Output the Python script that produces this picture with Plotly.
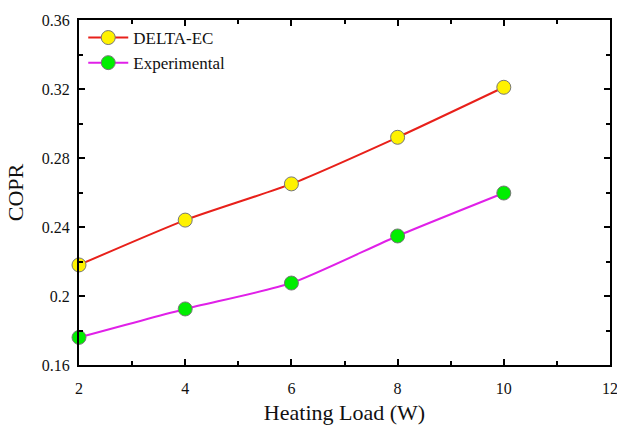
import plotly.graph_objects as go

heating_load = [2, 4, 6, 8, 10]
delta_ec = [0.218, 0.244, 0.265, 0.292, 0.321]
experimental = [0.176, 0.1925, 0.2075, 0.2348, 0.2597]

fig = go.Figure()
fig.add_trace(go.Scatter(
    x=heating_load, y=delta_ec, name="DELTA-EC", mode="lines+markers",
    line=dict(color="#E8201A", width=2, shape="spline", smoothing=0.6),
    marker=dict(size=14, color="#FFF200", line=dict(color="#777777", width=1)),
    cliponaxis=False))
fig.add_trace(go.Scatter(
    x=heating_load, y=experimental, name="Experimental", mode="lines+markers",
    line=dict(color="#E020E8", width=2, shape="spline", smoothing=0.6),
    marker=dict(size=14, color="#00EE00", line=dict(color="#777777", width=1)),
    cliponaxis=False))

axis_common = dict(
    showline=True, linecolor="black", linewidth=2, mirror="allticks",
    ticks="inside", ticklen=6, tickwidth=1.5, tickcolor="black",
    showgrid=False, zeroline=False, automargin=False, ticklabeloverflow="allow",
    tickfont=dict(family="Liberation Serif", size=16, color="#111"),
)
fig.update_xaxes(range=[2, 12], dtick=2, tick0=2, ticklabelstandoff=8,
                 minor=dict(dtick=1, ticks="inside", ticklen=4, tickcolor="black", tickwidth=1.5),
                 title=dict(text="Heating Load (W)", font=dict(family="Liberation Serif", size=22, color="#111"), standoff=12),
                 **axis_common)
fig.update_yaxes(range=[0.16, 0.36], dtick=0.04, tick0=0.16, ticklabelstandoff=4,
                 minor=dict(dtick=0.02, ticks="inside", ticklen=4, tickcolor="black", tickwidth=1.5),
                 title=dict(text="COPR", font=dict(family="Liberation Serif", size=22, color="#111"), standoff=12),
                 **axis_common)

fig.update_layout(
    width=617, height=425,
    margin=dict(l=79, r=7, t=20, b=60),
    plot_bgcolor="white", paper_bgcolor="white",
    legend=dict(x=0.008, y=1.0, xanchor="left", yanchor="top",
                font=dict(family="Liberation Serif", size=17, color="#111"),
                bgcolor="rgba(0,0,0,0)", tracegroupgap=0, itemwidth=40),
)
fig.write_html("out.html", config={"displayModeBar": False},
               post_script="document.body.style.margin='0';document.body.style.overflow='hidden';")
